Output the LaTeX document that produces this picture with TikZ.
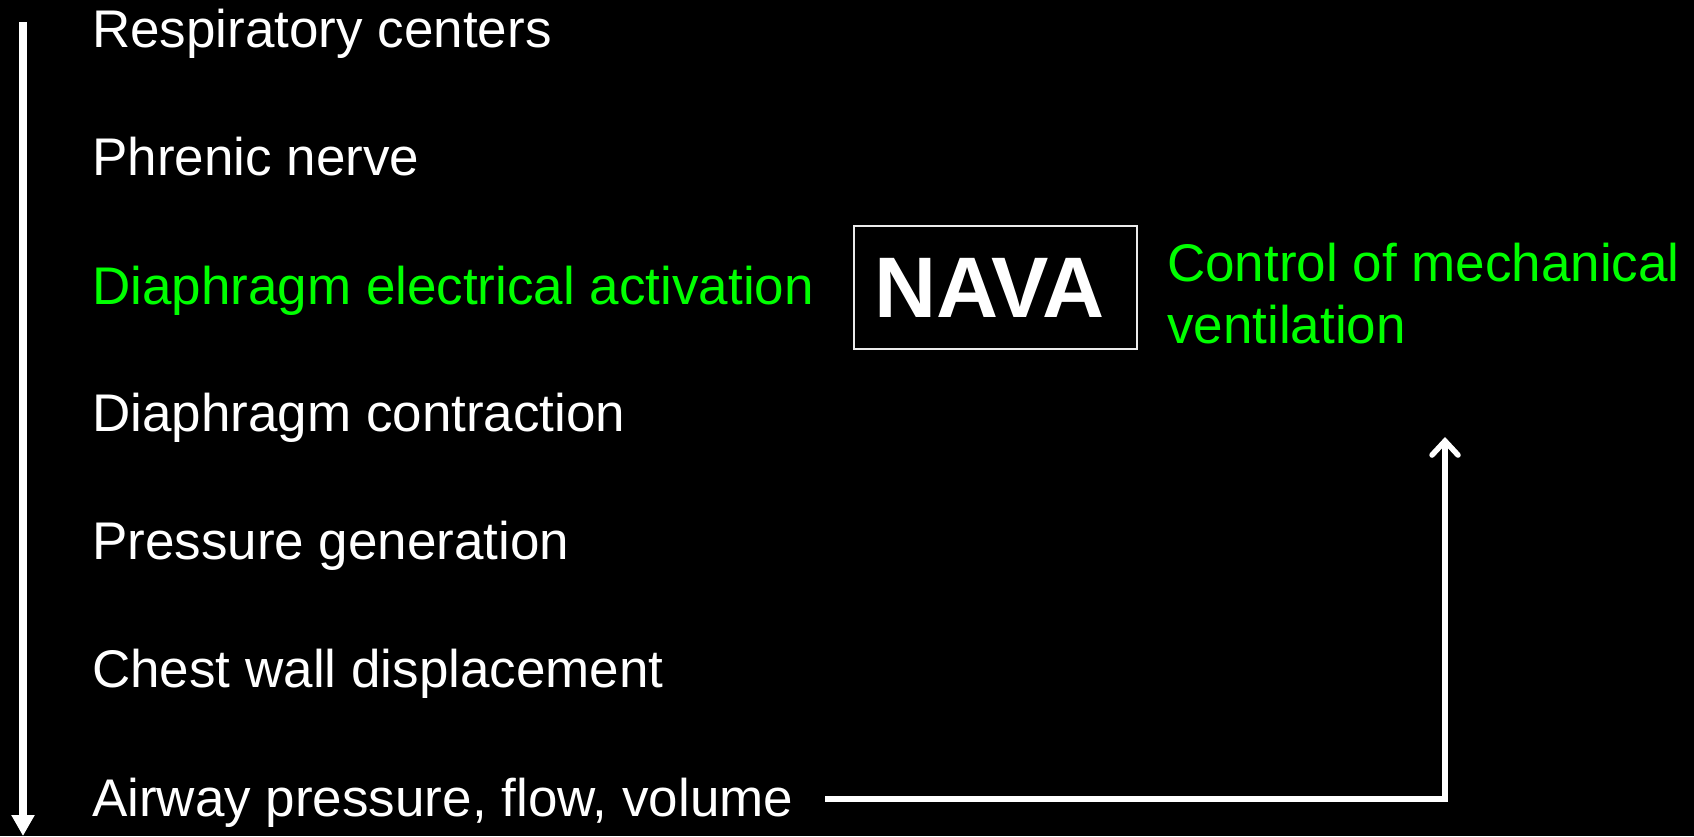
\documentclass[tikz,border=0pt]{standalone}
\usepackage{fontspec}
\setmainfont{Liberation Sans}
\usetikzlibrary{arrows.meta}
\definecolor{navagreen}{RGB}{0,255,0}
\tikzset{
  stage/.style={anchor=base west, inner sep=0pt, text=white,
    font=\fontsize{53}{63}\selectfont},
  hilite/.style={stage, text=navagreen},
  navabox/.style={draw=white!92!black, line width=2pt, minimum width=283pt,
    minimum height=123pt, inner sep=0pt, text=white,
    font=\bfseries\fontsize{86}{96}\selectfont},
  flowline/.style={white, line width=7.5pt},
  feedback/.style={white, line width=5.5pt, line join=miter}
}
\begin{document}
\begin{tikzpicture}[x=1pt, y=-1pt]
  \fill[black] (0,0) rectangle (1694,836);
  \useasboundingbox (0,0) rectangle (1694,836);

  % physiological chain, top to bottom
  \node[stage]  (resp)  at (92,47)  {Respiratory centers};
  \node[stage]  (phren) at (92,175) {Phrenic nerve};
  \node[hilite] (eadi)  at (92,304) {Diaphragm electrical activation};
  \node[stage]  (contr) at (92,431) {Diaphragm contraction};
  \node[stage]  (press) at (92,559) {Pressure generation};
  \node[stage]  (chest) at (92,687) {Chest wall displacement};
  \node[stage]  (airw)  at (92,816) {Airway pressure, flow, volume};

  % NAVA box and its role
  \node[navabox] (nava) at (995.5,287.5) {\kern-12pt NAVA};
  \node[hilite, align=left] (ctrl) at (1167,343)
    {Control of mechanical\\[-1pt]ventilation};

  % downward arrow along the chain
  \coordinate (chaintop) at (23,22);
  \coordinate (chainend) at (23,836);
  \draw[flowline, -{Triangle[width=22pt,length=21pt]}] (chaintop) -- (chainend);

  % conventional feedback path from airway signals
  \coordinate (fbstart) at (825,799);
  \coordinate (fbcorner) at (1445,799);
  \coordinate (fbend) at (1445,437);
  \draw[feedback, -{Straight Barb[length=14pt,width=26pt,line cap=round]}]
    (fbstart) -- (fbcorner) -- (fbend);
\end{tikzpicture}
\end{document}
